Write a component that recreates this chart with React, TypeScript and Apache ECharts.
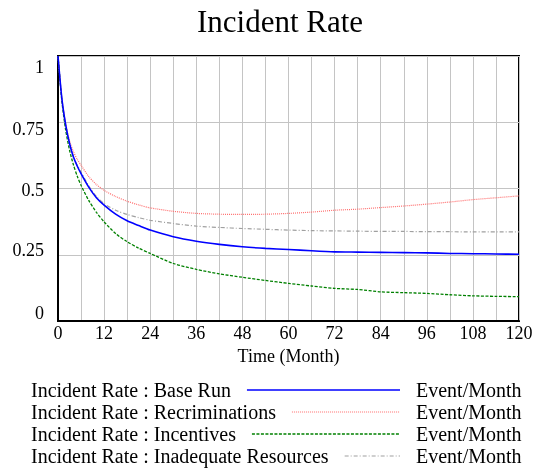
import React, { useEffect, useRef } from "react";
import * as echarts from "echarts";

const TITLE = "Incident Rate";
const X_NAME = "Time (Month)";
const UNIT = "Event/Month";

const months = [0, 1, 2, 3, 4, 5, 6, 8, 10, 12, 15, 18, 21, 24, 30, 36, 42, 48, 54, 60, 66, 72, 78, 84, 90, 96, 102, 108, 114, 120];

const baseRun = [1.0, 0.84, 0.74, 0.67, 0.62, 0.585, 0.556, 0.505, 0.465, 0.437, 0.403, 0.378, 0.36, 0.343, 0.318, 0.301, 0.289, 0.28, 0.274, 0.27, 0.265, 0.261, 0.26, 0.259, 0.258, 0.257, 0.255, 0.254, 0.253, 0.252];
const recriminations = [1.0, 0.84, 0.745, 0.68, 0.64, 0.61, 0.588, 0.545, 0.515, 0.493, 0.47, 0.452, 0.438, 0.427, 0.414, 0.406, 0.403, 0.402, 0.403, 0.406, 0.411, 0.418, 0.422, 0.428, 0.434, 0.441, 0.449, 0.458, 0.465, 0.472];
const incentives = [1.0, 0.83, 0.72, 0.645, 0.59, 0.547, 0.512, 0.455, 0.41, 0.374, 0.33, 0.299, 0.275, 0.255, 0.217, 0.195, 0.178, 0.165, 0.153, 0.142, 0.132, 0.123, 0.119, 0.11, 0.107, 0.104, 0.099, 0.095, 0.093, 0.092];
const inadequateResources = [1.0, 0.84, 0.74, 0.67, 0.62, 0.588, 0.562, 0.51, 0.47, 0.443, 0.418, 0.402, 0.39, 0.38, 0.368, 0.358, 0.353, 0.349, 0.346, 0.343, 0.341, 0.34, 0.339, 0.338, 0.338, 0.337, 0.337, 0.336, 0.336, 0.336];

const seriesNames = [
  "Incident Rate : Base Run",
  "Incident Rate : Recriminations",
  "Incident Rate : Incentives",
  "Incident Rate : Inadequate Resources",
];
const seriesValues = [baseRun, recriminations, incentives, inadequateResources];

const FONT = "'Liberation Serif', 'Times New Roman', serif";

const styles = [
  { color: "#0000ff", width: 1.6, type: "solid" as any },
  { color: "#ff7070", width: 1.2, type: [1, 1] as any },
  { color: "#008000", width: 1.3, type: [3, 1.5] as any },
  { color: "#a0a0a0", width: 1.2, type: [4, 2, 1, 2] as any },
];

export default function App() {
  const ref = useRef<HTMLDivElement>(null);
  useEffect(() => {
    if (!ref.current) return;
    const chart = echarts.init(ref.current, undefined, { renderer: "svg" });

    const canvas = document.createElement("canvas");
    const ctx = canvas.getContext("2d")!;
    ctx.font = `20px "Liberation Serif"`;

    const legendX = 31;
    const lineEnd = 400;
    const unitX = 416;
    const rowY = [390, 412, 434, 456];

    const legendGraphics: any[] = [];
    seriesNames.forEach((name, i) => {
      const w = ctx.measureText(name).width;
      legendGraphics.push({
        type: "text",
        x: legendX,
        y: rowY[i],
        style: { text: name, font: `20px ${FONT}`, fill: "#000", verticalAlign: "middle", align: "left" },
      });
      legendGraphics.push({
        type: "line",
        shape: { x1: legendX + w + 16, y1: rowY[i], x2: lineEnd, y2: rowY[i] },
        style: { stroke: styles[i].color, lineWidth: styles[i].width, lineDash: styles[i].type === "solid" ? null : styles[i].type },
      });
      legendGraphics.push({
        type: "text",
        x: unitX,
        y: rowY[i],
        style: { text: UNIT, font: `20px ${FONT}`, fill: "#000", verticalAlign: "middle", align: "left" },
      });
    });

    const yRich: any = {
      s4: { padding: [22, 0, 0, 0], fontSize: 18, fontFamily: FONT, color: "#000" },
      s3: { padding: [14, 0, 0, 0], fontSize: 18, fontFamily: FONT, color: "#000" },
      s2: { padding: [2, 0, 0, 0], fontSize: 18, fontFamily: FONT, color: "#000" },
      s1: { padding: [0, 0, 10, 0], fontSize: 18, fontFamily: FONT, color: "#000" },
      s0: { padding: [0, 0, 16, 0], fontSize: 18, fontFamily: FONT, color: "#000" },
    };

    chart.setOption({
      animation: false,
      textStyle: { fontFamily: FONT },
      graphic: [
        {
          type: "text",
          x: 280,
          y: 21,
          style: { text: TITLE, font: `31px ${FONT}`, fill: "#000", align: "center", verticalAlign: "middle" },
        },
        ...legendGraphics,
      ],
      grid: {
        left: 58,
        right: 17,
        top: 56,
        bottom: 148,
        show: true,
        borderColor: "#000",
        borderWidth: 2,
        containLabel: false,
      },
      xAxis: {
        type: "value",
        min: 0,
        max: 120,
        interval: 6,
        name: X_NAME,
        nameLocation: "middle",
        nameGap: 24,
        nameTextStyle: { fontSize: 18, fontFamily: FONT, color: "#000" },
        axisLine: { show: true, lineStyle: { color: "#000", width: 2 } },
        axisTick: { show: false },
        axisLabel: {
          fontSize: 18,
          fontFamily: FONT,
          color: "#000",
          margin: 3,
          formatter: (v: number) => (v % 12 === 0 ? String(v) : ""),
        },
        splitLine: { show: true, lineStyle: { color: "#c4c4c4", width: 1 } },
      },
      yAxis: {
        type: "value",
        min: 0,
        max: 1,
        interval: 0.25,
        axisLine: { show: true, lineStyle: { color: "#000", width: 2 } },
        axisTick: { show: false },
        axisLabel: {
          margin: 14,
          formatter: (v: number) => `{s${Math.round(v * 4)}|${v}}`,
          rich: yRich,
        },
        splitLine: { show: true, lineStyle: { color: "#c4c4c4", width: 1 } },
      },
      series: seriesNames.map((name, i) => ({
        name,
        type: "line",
        showSymbol: false,
        symbol: "none",
        smooth: 0.25,
        data: months.map((m, j) => [m, seriesValues[i][j]]),
        lineStyle: { color: styles[i].color, width: styles[i].width, type: styles[i].type },
        z: 10 - i,
      })),
    });
    return () => chart.dispose();
  }, []);
  return <div ref={ref} style={{ position: "fixed", left: 0, top: 0, width: 536, height: 469 }} />;
}
